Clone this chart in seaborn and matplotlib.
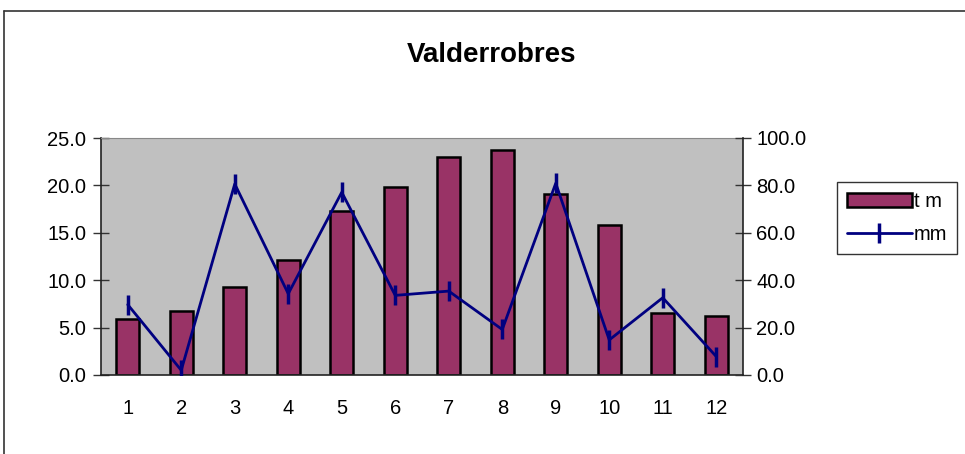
import numpy as np
import pandas as pd
import matplotlib
matplotlib.use("Agg")
import matplotlib.pyplot as plt
import seaborn as sns
from matplotlib.lines import Line2D

# data
months = ["1", "2", "3", "4", "5", "6", "7", "8", "9", "10", "11", "12"]
temp_tm = [5.9, 6.7, 9.3, 12.1, 17.3, 19.8, 23.0, 23.7, 19.1, 15.8, 6.5, 6.2]
rain_mm = [29.7, 2.0, 80.6, 34.3, 77.1, 33.6, 35.4, 19.2, 80.9, 14.8, 32.6, 7.8]
left_ticks = [0, 5, 10, 15, 20, 25]
right_ticks = [0, 20, 40, 60, 80, 100]

sns.set_style("white")
plt.rcParams["font.family"] = ["Liberation Sans", "DejaVu Sans"]
plt.rcParams["text.color"] = "black"
plt.rcParams["xtick.color"] = "black"
plt.rcParams["ytick.color"] = "black"

df = pd.DataFrame({"month": months, "tm": temp_tm, "mm": rain_mm})
df["pos"] = np.arange(len(months))

fig = plt.figure(figsize=(9.65, 4.54), dpi=100)
ax = fig.add_axes([101 / 965, 1 - 375 / 454, 642 / 965, 237 / 454])
ax.set_facecolor("#C0C0C0")

sns.barplot(data=df, x="month", y="tm", order=months, color="#993366",
            width=0.43, edgecolor="black", linewidth=1.8, saturation=1,
            ax=ax, label="t m")
if ax.get_legend() is not None:
    ax.get_legend().remove()
ax.set_xlim(-0.5, len(months) - 0.5)
ax.set_ylim(0, 25)
ax.set_yticks(left_ticks)
ax.set_yticklabels([f"{v:.1f}" for v in left_ticks])
ax.set_xlabel("")
ax.set_ylabel("")

ax2 = ax.twinx()
sns.lineplot(data=df, x="pos", y="mm", color="#000080", linewidth=2,
             marker="|", markersize=14, markeredgewidth=2.5,
             markeredgecolor="#000080", ax=ax2, label="mm", legend=False)
ax2.set_ylim(0, 100)
ax2.set_yticks(right_ticks)
ax2.set_yticklabels([f"{v:.1f}" for v in right_ticks])
ax2.set_ylabel("")
ax2.set_xlabel("")
ax2.set_xlim(-0.5, len(months) - 0.5)

# category tick marks between bars, labels centred
ax.set_xticks(np.arange(len(months)))
ax.set_xticklabels(months)
ax.set_xticks(np.arange(len(months) + 1) - 0.5, minor=True)
ax.tick_params(axis="x", which="major", length=0, labelsize=14.5, pad=17)
ax.tick_params(axis="x", which="minor", length=10, width=1, direction="inout",
               color="#333333")
ax.tick_params(axis="y", length=11, width=1, direction="inout", labelsize=14.5,
               pad=5, color="#333333", left=True)
ax2.tick_params(axis="y", length=11, width=1, direction="inout", labelsize=14.5,
                pad=4, color="#333333", right=True)

for a in (ax, ax2):
    for side in ["top", "right", "left", "bottom"]:
        a.spines[side].set_visible(False)
ax.spines["left"].set_visible(True)
ax.spines["bottom"].set_visible(True)
ax2.spines["right"].set_visible(True)
ax.spines["top"].set_visible(True)
ax.spines["top"].set_color("#888888")
for sp in [ax.spines["left"], ax.spines["bottom"], ax2.spines["right"]]:
    sp.set_color("#222222")
    sp.set_linewidth(1.2)

fig.text(0.509, 0.879, "Valderrobres", ha="center", va="center",
         fontsize=20, fontweight="bold")

h1, l1 = ax.get_legend_handles_labels()
h2, l2 = ax2.get_legend_handles_labels()
leg = fig.legend(h1 + h2, l1 + l2, loc="upper left",
                 bbox_to_anchor=(837 / 965, 1 - 182 / 454), fontsize=14.5,
                 frameon=True, fancybox=False, edgecolor="black",
                 handlelength=3.2, handletextpad=0.1, borderpad=0.5,
                 labelspacing=0.7, borderaxespad=0)
leg.get_frame().set_linewidth(1)

# chart border (top and left edges visible)
fig.add_artist(Line2D([4 / 965, 1], [1 - 10.5 / 454, 1 - 10.5 / 454],
                      color="#333333", linewidth=1.2, transform=fig.transFigure))
fig.add_artist(Line2D([4 / 965, 4 / 965], [0, 1 - 10.5 / 454],
                      color="#333333", linewidth=1.2, transform=fig.transFigure))

fig.savefig("out.png", dpi=100)
